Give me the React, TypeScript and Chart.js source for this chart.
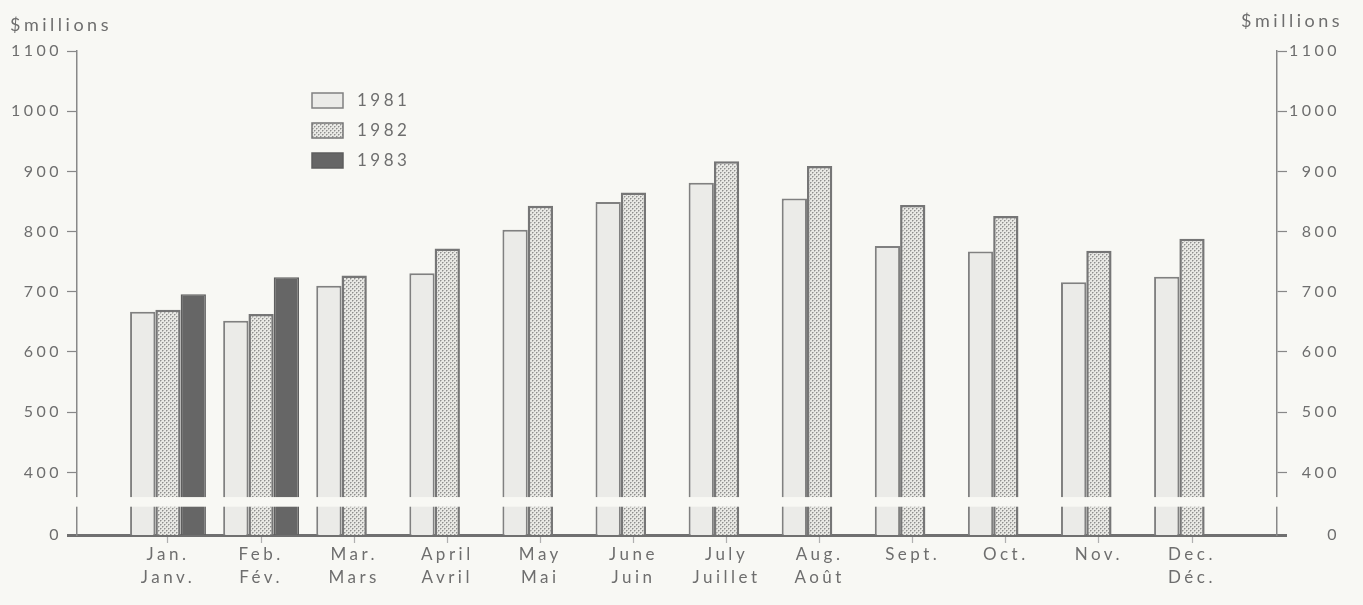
import React, { useEffect, useRef } from "react";
import { Chart, registerables } from "chart.js";

Chart.register(...registerables);

// ---------- data ----------
const monthsEn = ["Jan.", "Feb.", "Mar.", "April", "May", "June", "July", "Aug.", "Sept.", "Oct.", "Nov.", "Dec."];
const monthsFr = ["Janv.", "Fév.", "Mars", "Avril", "Mai", "Juin", "Juillet", "Août", "", "", "", "Déc."];
const seriesLabels = ["1981", "1982", "1983"];
const values1981 = [667, 652, 710, 731, 803, 849, 881, 855, 776, 767, 716, 725];
const values1982 = [670, 663, 727, 772, 843, 865, 917, 909, 844, 826, 768, 788];
const values1983: (number | null)[] = [696, 724, null, null, null, null, null, null, null, null, null, null];
const yTickValues = [0, 400, 500, 600, 700, 800, 900, 1000, 1100];
const yUnitLabel = "$millions";

// broken axis: the tick labelled "0" sits where 296 would be on a linear scale
const BREAK_BASE = 296;
const BREAK_GAP_FROM = 343;
const BREAK_GAP_TO = 359;
const Y_MAX = 1100;

// ---------- style ----------
const BG = "#f8f8f4";
const TEXT = "#6e6e6e";
const AXIS = "#888888";
const FONT = 'Lato, "DejaVu Sans", sans-serif';
const SPACING = "3.5px";

function makeDotPattern(): CanvasPattern | string {
  const pc = document.createElement("canvas");
  pc.width = 4;
  pc.height = 4;
  const c = pc.getContext("2d");
  if (!c) return "#d8d8d4";
  c.fillStyle = "#e8e8e4";
  c.fillRect(0, 0, 4, 4);
  c.fillStyle = "#8e8e8e";
  c.fillRect(0, 0, 1, 1);
  c.fillRect(2, 2, 1, 1);
  c.fillStyle = "#bdbdb9";
  c.fillRect(1, 0, 1, 1);
  c.fillRect(3, 2, 1, 1);
  c.fillRect(0, 1, 1, 1);
  c.fillRect(2, 3, 1, 1);
  return c.createPattern(pc, "repeat") || "#d8d8d4";
}

function setSpacing(chart: any) {
  try {
    (chart.ctx as any).letterSpacing = SPACING;
  } catch (e) {}
}

const decorPlugin = {
  id: "decor",
  beforeUpdate(chart: any) {
    setSpacing(chart);
  },
  beforeLayout(chart: any) {
    setSpacing(chart);
  },
  beforeDraw(chart: any) {
    const { ctx, width, height } = chart;
    ctx.save();
    ctx.fillStyle = BG;
    ctx.fillRect(0, 0, width, height);
    ctx.restore();
    setSpacing(chart);
  },
  afterDatasetsDraw(chart: any) {
    const { ctx, chartArea } = chart;
    const y = chart.scales.y;
    const top = y.getPixelForValue(BREAK_GAP_TO);
    const bottom = y.getPixelForValue(BREAK_GAP_FROM);
    ctx.save();
    ctx.fillStyle = BG;
    ctx.fillRect(chartArea.left - 14, top, chartArea.right - chartArea.left + 28, bottom - top);
    ctx.restore();
  },
  afterDraw(chart: any) {
    const { ctx, chartArea } = chart;
    ctx.save();
    (ctx as any).letterSpacing = SPACING;
    ctx.fillStyle = TEXT;
    ctx.textBaseline = "middle";
    ctx.font = `18px ${FONT}`;
    ctx.textAlign = "left";
    ctx.fillText(yUnitLabel, 10, 25);
    ctx.textAlign = "right";
    ctx.fillText(yUnitLabel, chartArea.right + 66, 21);

    // legend
    const boxX = 312;
    const boxY = 93;
    const rowH = 30;
    chart.data.datasets.forEach((ds: any, i: number) => {
      const yy = boxY + i * rowH;
      ctx.fillStyle = ds.backgroundColor;
      ctx.fillRect(boxX, yy, 31, 15);
      ctx.strokeStyle = ds.borderColor;
      ctx.lineWidth = 1.5;
      ctx.strokeRect(boxX, yy, 31, 15);
      ctx.fillStyle = TEXT;
      ctx.textAlign = "left";
      ctx.font = `17px ${FONT}`;
      ctx.fillText(ds.label, boxX + 45, yy + 8);
    });
    ctx.restore();
  },
};

function yAxisOptions(position: "left" | "right") {
  return {
    type: "linear" as const,
    position,
    min: BREAK_BASE,
    max: Y_MAX,
    afterBuildTicks(scale: any) {
      scale.ticks = yTickValues.map((v) => ({ value: v === 0 ? BREAK_BASE : v }));
    },
    afterFit(scale: any) {
      scale.width = position === "left" ? 77 : 63;
    },
    border: { display: true, color: AXIS, width: 1.5 },
    grid: {
      drawOnChartArea: false,
      drawTicks: true,
      tickLength: 10,
      tickColor: (ctx: any) => (ctx.index === 0 ? "#707070" : AXIS),
      tickWidth: (ctx: any) => (ctx.index === 0 ? 3 : 1.2),
    },
    ticks: {
      padding: 5,
      color: TEXT,
      font: { family: FONT, size: 16 },
      crossAlign: position === "left" ? ("near" as const) : ("far" as const),
      callback: (value: any) => (value === BREAK_BASE ? "0" : String(value)),
    },
  };
}

export default function App() {
  const ref = useRef<HTMLCanvasElement | null>(null);

  useEffect(() => {
    document.body.style.margin = "0";
    document.body.style.background = BG;
    const canvas = ref.current;
    if (!canvas) return;
    const dots = makeDotPattern();
    const toPoints = (arr: (number | null)[]) => arr.map((v, i) => ({ x: i, y: v }));

    const chart = new Chart(canvas, {
      type: "bar",
      data: {
        datasets: [
          {
            label: seriesLabels[0],
            data: toPoints(values1981) as any,
            backgroundColor: "#ebebe8",
            borderColor: "#808080",
            borderWidth: 2,
          },
          {
            label: seriesLabels[1],
            data: toPoints(values1982) as any,
            backgroundColor: dots as any,
            borderColor: "#767676",
            borderWidth: 2.5,
          },
          {
            label: seriesLabels[2],
            data: toPoints(values1983) as any,
            backgroundColor: "#666666",
            borderColor: "#5e5e5e",
            borderWidth: 1.5,
          },
        ],
      },
      options: {
        animation: false,
        responsive: false,
        maintainAspectRatio: false,
        layout: { padding: { top: 51, right: 23, left: 0, bottom: 0 } },
        datasets: {
          bar: { categoryPercentage: 0.815, barPercentage: 1 },
        },
        plugins: {
          legend: { display: false },
          tooltip: { enabled: false },
        },
        scales: {
          x: {
            type: "linear",
            position: "bottom",
            offset: false,
            min: -0.9775,
            max: 11.913,
            afterBuildTicks(scale: any) {
              scale.ticks = monthsEn.map((_, i) => ({ value: i }));
            },
            afterFit(scale: any) {
              scale.height = 70;
            },
            border: { display: true, color: "#707070", width: 3 },
            grid: {
              drawOnChartArea: false,
              drawTicks: true,
              tickLength: 8,
              tickColor: "#b0b0b0",
              tickWidth: 1.2,
              offset: false,
            },
            ticks: {
              autoSkip: false,
              maxRotation: 0,
              padding: 0,
              color: TEXT,
              font: { family: FONT, size: 17, lineHeight: 1.35 },
              callback: (value: any) => {
                const i = Math.round(Number(value));
                const en = monthsEn[i] ?? "";
                const fr = monthsFr[i] ?? "";
                return fr ? [en, fr] : en;
              },
            },
          },
          y: yAxisOptions("left") as any,
          y2: yAxisOptions("right") as any,
        },
      },
      plugins: [decorPlugin],
    });

    return () => chart.destroy();
  }, []);

  return (
    <div style={{ width: 1363, height: 605 }}>
      <canvas ref={ref} width={1363} height={605} style={{ display: "block" }} />
    </div>
  );
}
